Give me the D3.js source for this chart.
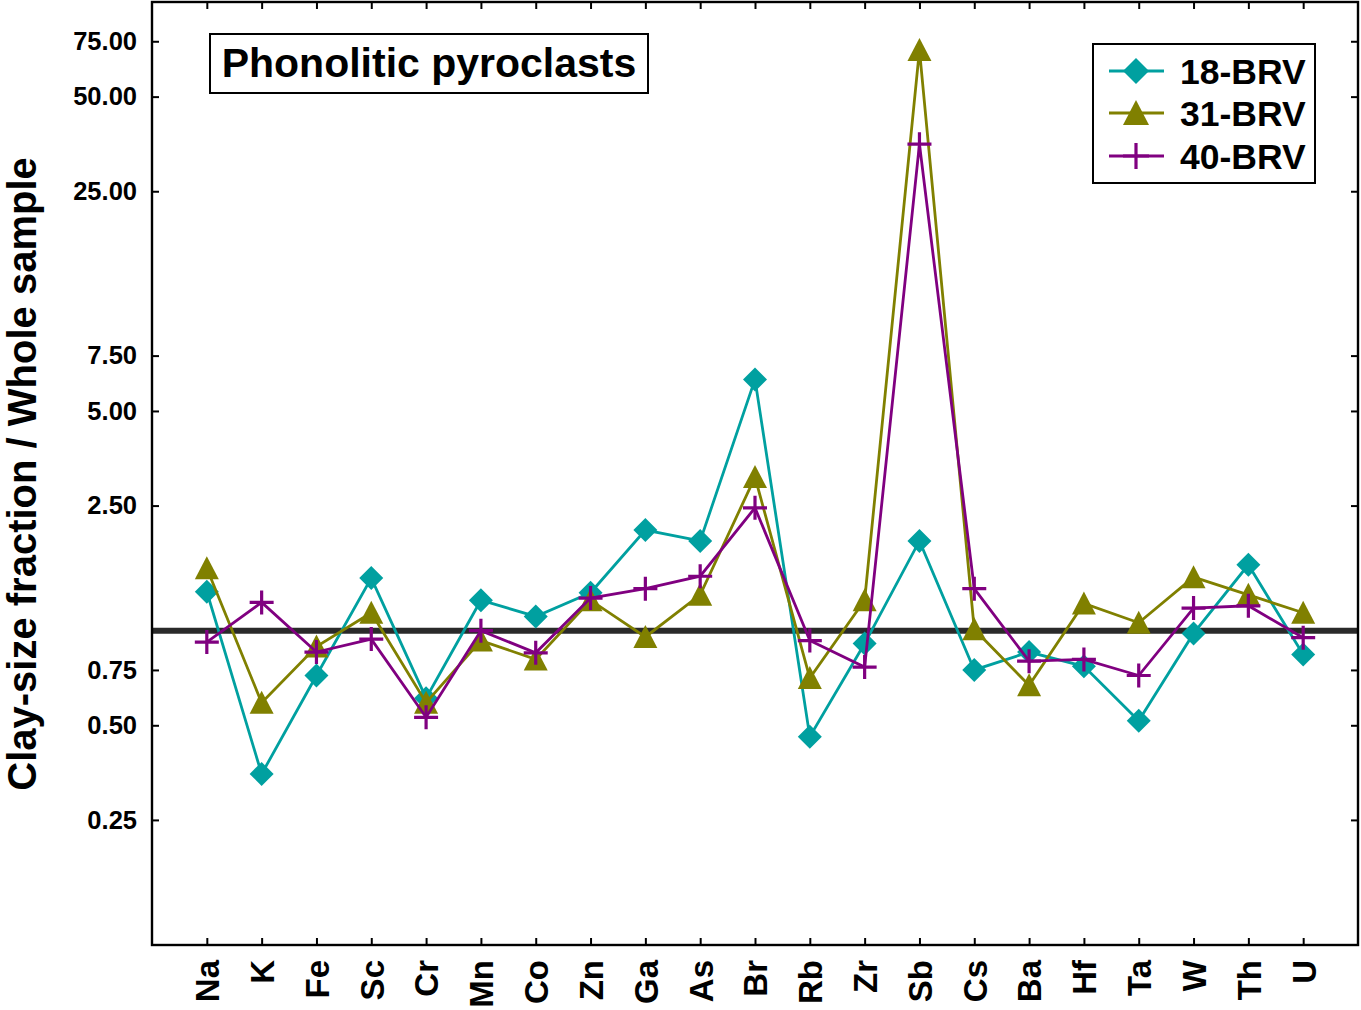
<!DOCTYPE html>
<html>
<head>
<meta charset="utf-8">
<script src="https://cdn.jsdelivr.net/npm/d3@7/dist/d3.min.js"></script>
<style>
  html, body { margin: 0; padding: 0; background: #fff; }
  svg { display: block; font-family: "Liberation Sans", Arial, sans-serif; font-weight: bold; }
</style>
</head>
<body>
<svg id="chart" width="1361" height="1010"></svg>
<script>
// Elements analysed
const elements = ["Na","K","Fe","Sc","Cr","Mn","Co","Zn","Ga","As","Br","Rb","Zr","Sb","Cs","Ba","Hf","Ta","W","Th","U"];

// Clay-size fraction / whole sample ratios per sample
const brv18 = [1.33,0.35,0.72,1.47,0.61,1.25,1.11,1.32,2.09,1.93,6.3,0.46,0.91,1.93,0.75,0.855,0.77,0.517,0.98,1.62,0.84];
const brv31 = [1.58,0.59,0.89,1.14,0.59,0.93,0.81,1.25,0.955,1.30,3.08,0.707,1.25,70.4,1.01,0.67,1.22,1.06,1.48,1.30,1.14];
const brv40 = [0.92,1.23,0.855,0.94,0.53,1.0,0.85,1.27,1.36,1.49,2.46,0.93,0.766,35.3,1.36,0.80,0.81,0.72,1.18,1.20,0.95];

const seriesNames = ["18-BRV","31-BRV","40-BRV"];
const yTickValues = [0.25,0.5,0.75,2.5,5,7.5,25,50,75];
const referenceValue = 1;
const titleText = "Phonolitic pyroclasts";
const yAxisTitle = "Clay-size fraction / Whole sample";

const series = [
  {name: seriesNames[0], values: brv18, color: "#00a0a0", symbol: "diamond"},
  {name: seriesNames[1], values: brv31, color: "#808000", symbol: "triangle"},
  {name: seriesNames[2], values: brv40, color: "#800080", symbol: "plus"}
];

const FONT = "Liberation Sans, Arial, sans-serif";
const svg = d3.select("#chart");
const m = {left: 152, right: 1358, top: 2, bottom: 945};

const x = d3.scalePoint().domain(elements).range([m.left, m.right]).padding(1);
const y = d3.scaleLog().domain([0.1, 100]).range([m.bottom, m.top]);

// Reference line at ratio = 1
svg.append("line")
  .attr("x1", m.left).attr("x2", m.right)
  .attr("y1", y(referenceValue)).attr("y2", y(referenceValue))
  .attr("stroke", "#2a2a2a").attr("stroke-width", 6);

// Marker drawing
function drawMarker(g, type, color, cx, cy, r) {
  r = r || 12;
  if (type === "diamond") {
    g.append("path")
      .attr("d", `M${cx},${cy-r}L${cx+r},${cy}L${cx},${cy+r}L${cx-r},${cy}Z`)
      .attr("fill", color);
  } else if (type === "triangle") {
    g.append("path")
      .attr("d", `M${cx},${cy-r}L${cx+r},${cy+r-1}L${cx-r},${cy+r-1}Z`)
      .attr("fill", color);
  } else {
    g.append("path")
      .attr("d", `M${cx-r},${cy}H${cx+r}M${cx},${cy-r}V${cy+r}`)
      .attr("stroke", color).attr("stroke-width", 3.2).attr("fill", "none");
  }
}

const line = d3.line().x((d, i) => x(elements[i])).y(d => y(d));

series.forEach(s => {
  const g = svg.append("g");
  g.append("path")
    .attr("d", line(s.values))
    .attr("fill", "none").attr("stroke", s.color).attr("stroke-width", 2.8)
    .attr("stroke-linejoin", "miter");
  s.values.forEach((v, i) => drawMarker(g, s.symbol, s.color, x(elements[i]), y(v)));
});

// Axes
const yLeft = d3.axisLeft(y).tickValues(yTickValues).tickFormat(d3.format(".2f")).tickSizeInner(-7).tickSizeOuter(0).tickPadding(15);
const gl = svg.append("g").attr("transform", `translate(${m.left},0)`).call(yLeft);
gl.selectAll("text").attr("font-size", 25.5).attr("font-family", FONT).attr("font-weight", "bold").attr("fill", "#000");

const yRight = d3.axisRight(y).tickValues(yTickValues).tickFormat("").tickSizeInner(-7).tickSizeOuter(0);
svg.append("g").attr("transform", `translate(${m.right},0)`).call(yRight);

const xBottom = d3.axisBottom(x).tickSizeInner(-7).tickSizeOuter(0).tickPadding(0);
const gb = svg.append("g").attr("transform", `translate(0,${m.bottom})`).call(xBottom);
gb.selectAll("text")
  .attr("font-size", 33).attr("font-family", FONT).attr("font-weight", "bold").attr("fill", "#000")
  .attr("text-anchor", "end").attr("dy", "0.36em")
  .attr("transform", "translate(0,15) rotate(-90)")
  .attr("x", 0).attr("y", 0);

const xTop = d3.axisTop(x).tickSizeInner(-7).tickSizeOuter(0).tickFormat("");
svg.append("g").attr("transform", `translate(0,${m.top})`).call(xTop);

svg.selectAll(".domain").remove();
svg.selectAll(".tick line").attr("stroke", "#000").attr("stroke-width", 2);

// Frame
svg.append("rect")
  .attr("x", m.left).attr("y", m.top)
  .attr("width", m.right - m.left).attr("height", m.bottom - m.top)
  .attr("fill", "none").attr("stroke", "#000").attr("stroke-width", 2.4);

// Y axis title
svg.append("text")
  .attr("transform", "translate(36,474) rotate(-90)")
  .attr("text-anchor", "middle")
  .attr("font-size", 40).attr("fill", "#000")
  .text(yAxisTitle);

// Title box
const tg = svg.append("g");
tg.append("rect").attr("x", 210).attr("y", 34).attr("width", 438).attr("height", 59)
  .attr("fill", "#fff").attr("stroke", "#000").attr("stroke-width", 2);
tg.append("text").attr("x", 429).attr("y", 77).attr("text-anchor", "middle")
  .attr("font-size", 41).attr("fill", "#000").text(titleText);

// Legend
const lg = svg.append("g");
lg.append("rect").attr("x", 1093).attr("y", 44).attr("width", 222).attr("height", 139)
  .attr("fill", "#fff").attr("stroke", "#000").attr("stroke-width", 2);
const rowY = [71, 113, 156];
series.forEach((s, i) => {
  lg.append("line").attr("x1", 1109).attr("x2", 1164).attr("y1", rowY[i]).attr("y2", rowY[i])
    .attr("stroke", s.color).attr("stroke-width", 2.8);
  drawMarker(lg, s.symbol, s.color, 1136, rowY[i], 13);
  lg.append("text").attr("x", 1180).attr("y", rowY[i] + 13)
    .attr("font-size", 35.5).attr("fill", "#000").text(s.name);
});
</script>
</body>
</html>
